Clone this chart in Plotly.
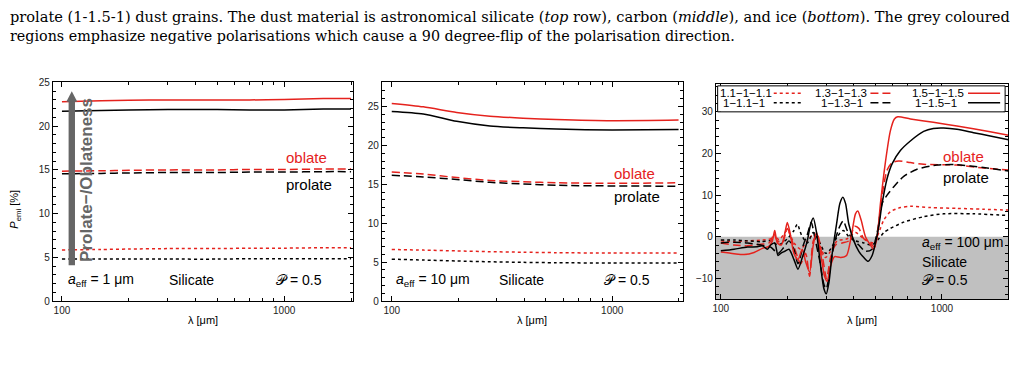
import plotly.graph_objects as go
import math

RED = "#e5221d"
BLK = "#000000"

# ---------- Panel 1 : a_eff = 1 um ----------
lam1 = [100, 150, 200, 300, 500, 700, 1000, 1500, 2000]
p1_ob15 = [22.8, 22.9, 22.95, 23.0, 23.0, 23.0, 23.05, 23.15, 23.15]
p1_pr15 = [21.7, 21.8, 21.85, 21.9, 21.9, 21.85, 21.85, 21.95, 21.95]
p1_ob13 = [14.85, 14.9, 14.95, 15.0, 15.0, 15.05, 15.05, 15.1, 15.1]
p1_pr13 = [14.55, 14.6, 14.65, 14.7, 14.7, 14.75, 14.75, 14.8, 14.8]
p1_ob11 = [5.85, 5.9, 5.95, 6.0, 6.0, 6.05, 6.05, 6.1, 6.1]
p1_pr11 = [4.8, 4.8, 4.8, 4.8, 4.8, 4.85, 4.85, 4.85, 4.85]

# ---------- Panel 2 : a_eff = 10 um ----------
lam2 = [100, 139, 197, 279, 394, 558, 1000, 2000]
p2_ob15 = [25.4, 24.96, 24.25, 23.76, 23.51, 23.34, 23.18, 23.26]
p2_pr15 = [24.38, 24.05, 23.1, 22.5, 22.26, 22.1, 22.0, 22.05]
p2_ob13 = [16.58, 16.33, 15.87, 15.5, 15.34, 15.2, 15.13, 15.2]
p2_pr13 = [16.17, 15.96, 15.63, 15.26, 15.05, 14.88, 14.8, 14.76]
p2_ob11 = [6.63, 6.55, 6.45, 6.35, 6.28, 6.22, 6.17, 6.17]
p2_pr11 = [5.39, 5.28, 5.15, 5.05, 4.98, 4.93, 4.89, 4.89]

# ---------- Panel 3 : a_eff = 100 um ----------
lam3_ob15 = [100, 114.8, 127.4, 141.4, 154.2, 165.2, 171.1, 175.3, 180.2, 187.8, 195.1, 199.8,
             205.5, 214.2, 223.3, 233.6, 241.8, 252.0, 261.8, 271.0, 282.6, 294.6, 302.9, 313.5,
             326.8, 347.9, 370.3, 388.6, 406.4, 416.4, 431.1, 451.0, 475.1, 491.9, 509.2, 527.2,
             555.3, 584.8, 609.6, 631.0, 720.0, 914.0, 1168.6, 1652.2, 2000]
p3_ob15 = [-3.7, -4.1, -4.3, -3.8, -2.8, -2.3, -1.0, 1.5, -1.5, -2.0, 1.0, 3.4,
           1.0, -4.0, -5.5, -3.0, -6.0, -8.5, -2.0, 1.0, -4.0, -9.5, -10.7, -7.0,
           -4.8, -5.0, -4.5, 0.0, 5.5, 6.2, 4.0, 0.0, -2.0, -3.0, 0.0, 8.0,
           18.0, 25.5, 28.3, 28.8, 28.3, 27.5, 26.6, 25.2, 24.4]

lam3_pr15 = [100, 114.8, 131.9, 146.3, 154.2, 162.4, 168.1, 175.3, 181.4, 186.5, 194.5, 203.4,
             214.2, 223.3, 233.6, 246.0, 254.7, 261.8, 271.0, 282.6, 292.6, 299.8, 308.2, 319.0,
             333.7, 345.4, 356.4, 366.4, 379.3, 399.5, 420.8, 443.3, 463.7, 483.4, 500.4, 518.1,
             536.4, 564.9, 595.0, 648.6, 719.7, 826.6, 914.0, 1017.5, 1168.6, 1389.7, 1652.2, 2000]
p3_pr15 = [-3.4, -3.0, -2.5, -2.4, -2.2, -3.0, -2.0, -1.5, -4.5, -4.0, -3.5, -3.0,
           -5.5, -7.8, -5.0, -1.0, 3.0, 4.5, 1.0, -7.0, -12.5, -13.7, -11.0, -4.0,
           3.0, 8.0, 9.5, 8.0, 3.0, -1.0, -3.5, -5.0, -5.9, -4.5, -1.5, 2.5,
           8.0, 14.0, 17.5, 20.7, 23.0, 25.3, 26.0, 26.1, 25.8, 25.0, 24.2, 23.3]

lam3_ob13 = [100, 114.8, 131.9, 151.5, 165.2, 174.0, 180.2, 189.8, 199.8, 207.0, 217.9, 229.6,
             241.8, 252.0, 261.8, 273.0, 287.5, 300.8, 313.5, 330.2, 353.9, 379.3, 402.3, 420.8,
             443.3, 475.1, 495.3, 512.8, 536.4, 564.9, 595.0, 637.6, 719.7, 826.6, 1168.6, 1541.7, 2000]
p3_ob13 = [-1.5, -2.0, -2.2, -1.8, -1.5, 0.5, -1.0, -1.5, 2.0, 0.0, -3.5, -6.5,
           -4.0, -9.5, -1.0, 0.5, -4.5, -10.0, -5.0, -2.0, -1.5, -1.0, 2.5, 2.0,
           -0.5, -1.5, -2.5, 1.0, 10.0, 16.0, 17.8, 18.2, 17.8, 17.4, 17.2, 16.5, 16.0]

lam3_pr13 = [100, 114.8, 131.9, 151.5, 168.1, 181.4, 193.1, 203.4, 214.2, 223.3, 236.1, 246.0,
             256.4, 265.5, 280.6, 292.6, 299.8, 311.4, 324.6, 341.9, 357.6, 372.8, 392.6, 420.8,
             451.0, 483.4, 509.2, 536.4, 564.9, 605.4, 671.7, 771.4, 949.4, 1168.6, 1541.7, 2000]
p3_pr13 = [-1.5, -1.3, -1.5, -2.0, -2.5, -4.0, -2.5, -1.0, -3.0, -6.5, -2.0, 0.5,
           3.5, 0.0, -6.0, -11.5, -12.5, -8.0, -2.0, 2.0, 3.8, 1.5, -0.5, -2.0,
           -3.5, -3.0, 1.0, 8.0, 10.0, 12.0, 14.5, 16.2, 17.2, 17.3, 16.6, 15.8]

lam3_ob11 = [100, 114.8, 131.9, 154.2, 168.1, 175.3, 183.3, 199.8, 214.2, 229.6, 246.0, 261.8,
             277.7, 297.7, 313.5, 336.0, 372.8, 406.4, 443.3, 491.9, 518.1, 545.8, 584.8, 648.6,
             719.7, 885.8, 1168.6, 1541.7, 2000]
p3_ob11 = [-1.0, -1.2, -1.0, -0.8, -0.5, 0.5, -0.8, 1.5, -1.5, -3.0, -1.0, 0.5,
           -1.5, -5.0, -3.5, -1.0, -0.5, 1.0, -0.5, -1.5, 1.0, 4.0, 6.0, 7.0,
           7.3, 7.0, 6.8, 6.6, 6.4]

lam3_pr11 = [100, 114.8, 131.9, 151.5, 168.1, 181.4, 199.8, 214.2, 221.8, 231.2, 246.0, 261.8,
             277.7, 297.7, 313.5, 336.0, 357.6, 379.3, 406.4, 443.3, 483.4, 518.1, 545.8, 584.8,
             671.7, 826.6, 1017.5, 1389.7, 2000]
p3_pr11 = [-0.8, -0.8, -1.0, -1.2, -1.0, -2.0, -0.5, 1.5, 3.0, 0.5, -1.5, 1.0,
           -1.0, -4.0, -3.0, 0.0, 1.5, 0.0, -1.0, -1.5, -2.0, -0.5, 1.0, 2.0,
           3.5, 4.8, 5.5, 5.5, 5.1]

legend_labels_ob = ["1.1\u22121\u22121.1", "1.3\u22121\u22121.3", "1.5\u22121\u22121.5"]
legend_labels_pr = ["1\u22121.1\u22121", "1\u22121.3\u22121", "1\u22121.5\u22121"]

DOT = "3px,3px"
DASH = "8px,4px"

fig = go.Figure()


def add(x, y, color, dash, xa, ya):
    fig.add_trace(go.Scatter(x=x, y=y, mode="lines", xaxis=xa, yaxis=ya,
                             line=dict(color=color, width=1.5, dash=dash,
                                       shape="spline", smoothing=0.7),
                             showlegend=False, hoverinfo="skip"))


add(lam1, p1_ob15, RED, "solid", "x", "y")
add(lam1, p1_pr15, BLK, "solid", "x", "y")
add(lam1, p1_ob13, RED, DASH, "x", "y")
add(lam1, p1_pr13, BLK, DASH, "x", "y")
add(lam1, p1_ob11, RED, DOT, "x", "y")
add(lam1, p1_pr11, BLK, DOT, "x", "y")

add(lam2, p2_ob15, RED, "solid", "x2", "y2")
add(lam2, p2_pr15, BLK, "solid", "x2", "y2")
add(lam2, p2_ob13, RED, DASH, "x2", "y2")
add(lam2, p2_pr13, BLK, DASH, "x2", "y2")
add(lam2, p2_ob11, RED, DOT, "x2", "y2")
add(lam2, p2_pr11, BLK, DOT, "x2", "y2")

add(lam3_ob11, p3_ob11, RED, DOT, "x3", "y3")
add(lam3_pr11, p3_pr11, BLK, DOT, "x3", "y3")
add(lam3_ob13, p3_ob13, RED, DASH, "x3", "y3")
add(lam3_pr13, p3_pr13, BLK, DASH, "x3", "y3")
add(lam3_ob15, p3_ob15, RED, "solid", "x3", "y3")
add(lam3_pr15, p3_pr15, BLK, "solid", "x3", "y3")

W, H = 1019, 369
TICKFONT = dict(family="Liberation Sans, Arial, sans-serif", size=10, color="#222")
minor_x = [200, 300, 400, 500, 600, 700, 800, 900, 2000]


def xax(x0, x1, anchor, rng):
    return dict(domain=[x0 / W, x1 / W], anchor=anchor, type="log", range=rng,
                tickvals=[100, 1000], ticktext=["100", "1000"], ticks="inside",
                ticklen=5, tickcolor="black", showline=True, linecolor="black",
                linewidth=1, mirror="allticks", showgrid=False, zeroline=False,
                tickfont=TICKFONT,
                minor=dict(tickvals=minor_x, ticks="inside", ticklen=3, tickcolor="black"))


def yax(top, bot, anchor, rng, dtick, mdtick):
    return dict(domain=[(H - bot) / H, (H - top) / H], anchor=anchor, range=rng,
                dtick=dtick, tick0=0, ticks="inside", ticklen=5, tickcolor="black",
                showline=True, linecolor="black", linewidth=1, mirror="allticks",
                showgrid=False, zeroline=False, tickfont=TICKFONT,
                minor=dict(dtick=mdtick, tick0=0, ticks="inside", ticklen=3, tickcolor="black"))


fig.update_layout(
    width=W, height=H, margin=dict(l=0, r=0, t=0, b=0),
    paper_bgcolor="white", plot_bgcolor="white",
    xaxis=xax(50, 351, "y", [math.log10(91), math.log10(2040)]),
    yaxis=yax(79, 305, "x", [0, 25], 5, 1),
    xaxis2=xax(380, 682, "y2", [math.log10(90.2), math.log10(2095)]),
    yaxis2=yax(79, 305, "x2", [0, 28.1], 5, 1),
    xaxis3=xax(715, 1008, "y3", [math.log10(95), math.log10(1990)]),
    yaxis3=yax(81, 303, "x3", [-15, 36.6], 10, 2),
)

shapes = []
# grey negative-polarisation region
shapes.append(dict(type="rect", xref="x3 domain", yref="y3", x0=0, x1=1, y0=-15, y1=0,
                   fillcolor="#c0c0c0", line=dict(width=0), layer="below"))
# legend box
shapes.append(dict(type="rect", xref="x3 domain", yref="y3 domain", x0=0.006, x1=0.99,
                   y0=0.872, y1=0.993, fillcolor="white", line=dict(color="black", width=1),
                   layer="above"))
for (ya, color) in [(0.959, RED), (0.914, BLK)]:
    for (a, b, d) in [(0.198, 0.297, DOT), (0.529, 0.608, DASH), (0.863, 0.973, "solid")]:
        shapes.append(dict(type="line", xref="x3 domain", yref="y3 domain", x0=a, x1=b,
                           y0=ya, y1=ya, line=dict(color=color, width=1.5, dash=d), layer="above"))

# grey "Prolate-/Oblateness" arrow in panel 1 (shaft + head, in pixel-based paper coords)
ax_px, tip_py, base_py, tail_py = 69, 88, 99, 268
shapes.append(dict(type="rect", xref="paper", yref="paper",
                   x0=(ax_px - 3.2) / W, x1=(ax_px + 3.2) / W,
                   y0=(H - tail_py) / H, y1=(H - base_py + 1) / H,
                   fillcolor="#666666", line=dict(width=0), layer="above"))
shapes.append(dict(type="path", xref="paper", yref="paper",
                   path="M {:.5f},{:.5f} L {:.5f},{:.5f} L {:.5f},{:.5f} Z".format(
                       (ax_px - 5.5) / W, (H - base_py) / H,
                       ax_px / W, (H - tip_py) / H,
                       (ax_px + 5.5) / W, (H - base_py) / H),
                   fillcolor="#666666", line=dict(width=0), layer="above"))
fig.update_layout(shapes=shapes)

SANS = "Liberation Sans, Arial, sans-serif"
SERIF = "DejaVu Serif, serif"
ann = []


def txt(text, x, y, xref, yref, xanchor="left", size=14, color="black", **kw):
    ann.append(dict(text=text, x=x, y=y, xref=xref, yref=yref, xanchor=xanchor,
                    yanchor="middle", showarrow=False,
                    font=dict(family=SANS, size=size, color=color), **kw))


Pcal = "\U0001D4AB"
# panel 1
txt("<i>a</i><sub>eff</sub> = 1 \u03bcm", 0.043, 0.097, "x domain", "y domain")
txt("Silicate", 0.4635, 0.097, "x domain", "y domain", xanchor="center")
txt(Pcal + " = 0.5", 0.819, 0.097, "x domain", "y domain", xanchor="center")
txt("oblate", 0.771, 0.655, "x domain", "y domain", color=RED, size=15)
txt("prolate", 0.771, 0.535, "x domain", "y domain", size=15)
# panel 2
txt("<i>a</i><sub>eff</sub> = 10 \u03bcm", 0.040, 0.097, "x2 domain", "y2 domain")
txt("Silicate", 0.4636, 0.097, "x2 domain", "y2 domain", xanchor="center")
txt(Pcal + " = 0.5", 0.815, 0.097, "x2 domain", "y2 domain", xanchor="center")
txt("oblate", 0.765, 0.584, "x2 domain", "y2 domain", color=RED, size=15)
txt("prolate", 0.765, 0.478, "x2 domain", "y2 domain", size=15)
# panel 3
txt("oblate", 0.771, 0.662, "x3 domain", "y3 domain", color=RED, size=15)
txt("prolate", 0.771, 0.568, "x3 domain", "y3 domain", size=15)
txt("<i>a</i><sub>eff</sub> = 100 \u03bcm", 0.700, 0.261, "x3 domain", "y3 domain")
txt("Silicate", 0.700, 0.171, "x3 domain", "y3 domain")
txt(Pcal + " = 0.5", 0.700, 0.090, "x3 domain", "y3 domain")
# legend texts
for i, (xo, xp) in enumerate([(0.008, 0.018), (0.334, 0.352), (0.664, 0.674)]):
    txt(legend_labels_ob[i], xo, 0.961, "x3 domain", "y3 domain", size=11.5)
    txt(legend_labels_pr[i], xp, 0.912, "x3 domain", "y3 domain", size=11.5)

# axis titles
for cx in [200.5, 531, 861.5]:
    txt("\u03bb [\u03bcm]", cx / W, (H - 325) / H, "paper", "paper", xanchor="center", size=11)
txt("<i>P</i><sub>emi</sub> [%]", 12.5 / W, (H - 210) / H, "paper", "paper",
    xanchor="center", size=11, textangle=-90)

# arrow label in panel 1
ann.append(dict(text="<b>Prolate\u2212/Oblateness</b>", x=math.log10(129), y=13.8,
                xref="x", yref="y", showarrow=False, textangle=-90,
                font=dict(family=SANS, size=17, color="#666666")))

# caption text
ann.append(dict(text="prolate (1-1.5-1) dust grains. The dust material is astronomical silicate "
                     "(<i>top</i> row), carbon (<i>middle</i>), and ice (<i>bottom</i>). The grey coloured",
                x=5 / W, y=(H - 11) / H, xref="paper", yref="paper", xanchor="left",
                yanchor="middle", showarrow=False,
                font=dict(family=SERIF, size=14.6, color="black")))
ann.append(dict(text="regions emphasize negative polarisations which cause a 90 degree-flip "
                     "of the polarisation direction.",
                x=5 / W, y=(H - 31) / H, xref="paper", yref="paper", xanchor="left",
                yanchor="middle", showarrow=False,
                font=dict(family=SERIF, size=14.3, color="black")))

fig.update_layout(annotations=ann)
fig.write_html("out.html")
